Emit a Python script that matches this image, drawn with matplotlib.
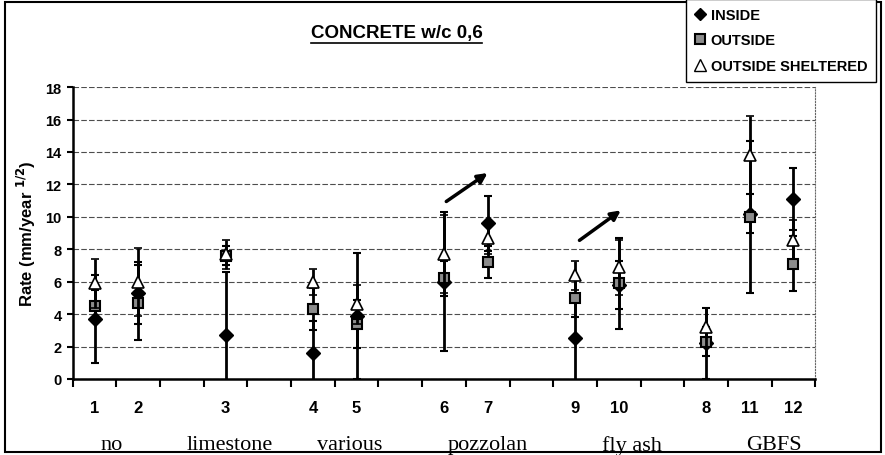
import numpy as np
import matplotlib
matplotlib.use("Agg")
import matplotlib.pyplot as plt
from matplotlib.lines import Line2D
from matplotlib.patches import Rectangle

# x slots (empty strings are gaps between groups)
slot_labels = ['1', '2', '', '3', '', '4', '5', '', '6', '7', '', '9', '10', '', '8', '11', '12']
mixes = ['1', '2', '3', '4', '5', '6', '7', '9', '10', '8', '11', '12']

inside = [3.7, 5.3, 2.7, 1.6, 3.9, 6.0, 9.6, 2.5, 5.8, 2.2, 10.2, 11.1]
inside_err = [2.7, 1.9, 3.9, 2.0, 3.9, 4.3, 1.7, 2.6, 1.5, 2.2, 1.2, 1.9]
outside = [4.5, 4.7, 7.6, 4.3, 3.4, 6.2, 7.2, 5.0, 5.9, 2.3, 10.0, 7.1]
outside_err = [1.0, 2.3, 0.6, 1.3, 1.5, 1.1, 1.0, 1.2, 2.8, 0.9, 4.7, 1.7]
sheltered = [5.9, 6.0, 7.7, 6.0, 4.6, 7.7, 8.7, 6.4, 6.9, 3.2, 13.8, 8.6]
sheltered_err = [1.5, 2.1, 0.9, 0.8, 1.2, 2.4, 1.0, 0.9, 1.7, 1.2, 2.4, 1.2]

groups = ['no', 'limestone', 'various', 'pozzolan', 'fly ash', 'GBFS']
group_pos = [0.4, 3.1, 5.85, 9.0, 12.3, 15.55]

# trend arrows (start x, start y, end x, end y)
arrows = [(8.0, 10.85, 9.05, 12.8), (11.05, 8.45, 12.1, 10.5)]

plt.rcParams["font.family"] = ["Liberation Sans", "DejaVu Sans"]

fig = plt.figure(figsize=(8.85, 4.56), dpi=100)
ax = fig.add_axes([0.0822, 0.1667, 0.839, 0.640])

x = np.array([slot_labels.index(m) for m in mixes])

ax.errorbar(x, inside, yerr=inside_err, fmt='D', ms=7, mfc='black', mec='black',
            ecolor='black', elinewidth=2, capsize=3, capthick=1.5, zorder=3)
ax.errorbar(x, outside, yerr=outside_err, fmt='s', ms=7, mfc='0.55', mec='black', mew=1.5,
            ecolor='black', elinewidth=2, capsize=3, capthick=1.5, zorder=4)
ax.errorbar(x, sheltered, yerr=sheltered_err, fmt='^', ms=9, mfc='white', mec='black', mew=1.2,
            ecolor='black', elinewidth=2, capsize=3, capthick=1.5, zorder=5)

for x0, y0, x1, y1 in arrows:
    ax.annotate('', xy=(x1, y1), xytext=(x0, y0),
                arrowprops=dict(arrowstyle='-|>', color='black', lw=2.5, mutation_scale=14))

ax.set_xlim(-0.5, len(slot_labels) - 0.5)
ax.set_ylim(0, 18)
ax.set_yticks(np.arange(0, 19, 2))
ax.set_xticks(np.arange(len(slot_labels)))
ax.set_xticklabels(slot_labels, fontsize=12, fontweight='bold')
ax.set_xticks(np.arange(-0.5, len(slot_labels), 1), minor=True)
ax.tick_params(axis='x', which='major', length=0, pad=15)
ax.tick_params(axis='x', which='minor', length=6, width=1.5, direction='out')
ax.tick_params(axis='y', length=4, width=1.5, pad=4)
for lab in ax.get_yticklabels():
    lab.set_fontsize(10.5)
    lab.set_fontweight('bold')

ax.grid(axis='y', color='0.3', linestyle=(0, (5, 2)), linewidth=0.8)
ax.set_axisbelow(True)
ax.spines['top'].set_visible(False)
ax.spines['right'].set_linestyle(':')
ax.spines['right'].set_color('0.4')
ax.spines['left'].set_linewidth(1.8)
ax.spines['bottom'].set_linewidth(1.8)

ax.set_ylabel('Rate (mm/year $^{\\mathbf{1/2}}$)', fontsize=12, fontweight='bold', labelpad=5)

for g, p in zip(groups, group_pos):
    ax.text(p, -0.225, g, transform=ax.get_xaxis_transform(), ha='center', va='center',
            fontsize=16, family='Liberation Serif')

# title with underline
title = fig.text(0.448, 0.926, 'CONCRETE w/c 0,6', ha='center', va='center',
                 fontsize=13.5, fontweight='bold')

handles = [
    Line2D([], [], marker='D', color='none', mfc='black', mec='black', ms=6),
    Line2D([], [], marker='s', color='none', mfc='0.55', mec='black', mew=1.5, ms=7),
    Line2D([], [], marker='^', color='none', mfc='white', mec='black', ms=8),
]
leg = fig.legend(handles, ['INSIDE', 'OUTSIDE', 'OUTSIDE SHELTERED'], loc='upper left',
                 bbox_to_anchor=(0.775, 1.0), frameon=True, fancybox=False,
                 prop=dict(size=10.5, weight='bold'),
                 edgecolor='black', framealpha=1, handlelength=0.8, handletextpad=0.3,
                 labelspacing=0.8, borderpad=0.6, borderaxespad=0)
leg.get_frame().set_linewidth(1.0)

fig.patches.append(Rectangle((0.006, 0.006), 0.99, 0.988, transform=fig.transFigure,
                             fill=False, edgecolor='black', linewidth=1.5, zorder=0))

fig.canvas.draw()
bb = title.get_window_extent().transformed(fig.transFigure.inverted())
fig.add_artist(Line2D([bb.x0, bb.x1], [bb.y0 - 0.004, bb.y0 - 0.004],
                      transform=fig.transFigure, color='black', lw=1.2))

fig.savefig('out.png', dpi=100)
